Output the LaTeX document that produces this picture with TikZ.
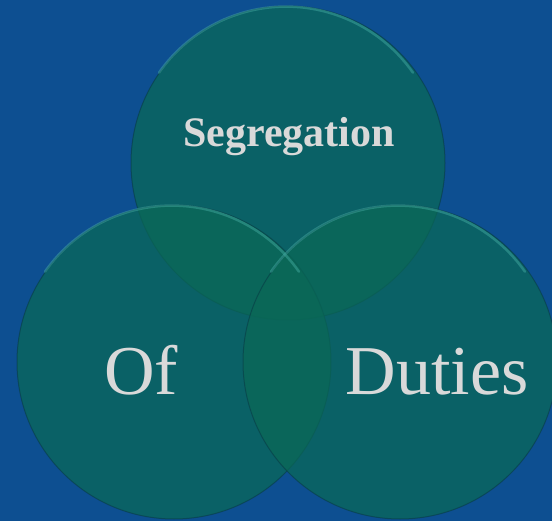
\documentclass[tikz,border=0pt]{standalone}
\usepackage{fontspec}
\setmainfont{Liberation Serif}
\usetikzlibrary{backgrounds}
\definecolor{slidebg}{RGB}{13,79,145}
\definecolor{ringfill}{RGB}{10,104,86}
\definecolor{ringrim}{RGB}{70,175,165}
\definecolor{ringdark}{RGB}{8,60,70}
\definecolor{labelgray}{RGB}{217,217,217}

\begin{document}
\begin{tikzpicture}[
    x=1pt, y=-1pt,
    ring/.style={circle, minimum size=314pt, inner sep=0pt, fill=ringfill, fill opacity=0.72, draw=ringdark, draw opacity=0.6, line width=1pt},
    rimlight/.style={draw=ringrim, line width=2.5pt, opacity=0.45, line cap=round},
    word/.style={text=labelgray, anchor=base, inner sep=0pt}
]
    % slide background
    \fill[slidebg] (0,0) rectangle (552,521);
    \useasboundingbox (0,0) rectangle (552,521);
    \clip (0,0) rectangle (552,521);

    % three rings
    \node[ring] (top) at (288,163) {};
    \node[ring] (left) at (174,362) {};
    \node[ring] (right) at (400,362) {};

    % bevel highlight along the upper rims
    \draw[rimlight] (top.145) arc[start angle=-145, end angle=-35, radius=155];
    \draw[rimlight] (left.145) arc[start angle=-145, end angle=-35, radius=155];
    \draw[rimlight] (right.145) arc[start angle=-145, end angle=-35, radius=155];

    % labels
    \node[word, font=\fontsize{42}{46}\selectfont\bfseries] (seg) at (289,147) {Segregation};
    \node[word, font=\fontsize{70}{76}\selectfont] (of) at (141,395) {Of};
    \node[word, font=\fontsize{70}{76}\selectfont] (duties) at (437,395) {Duties};
\end{tikzpicture}
\end{document}
